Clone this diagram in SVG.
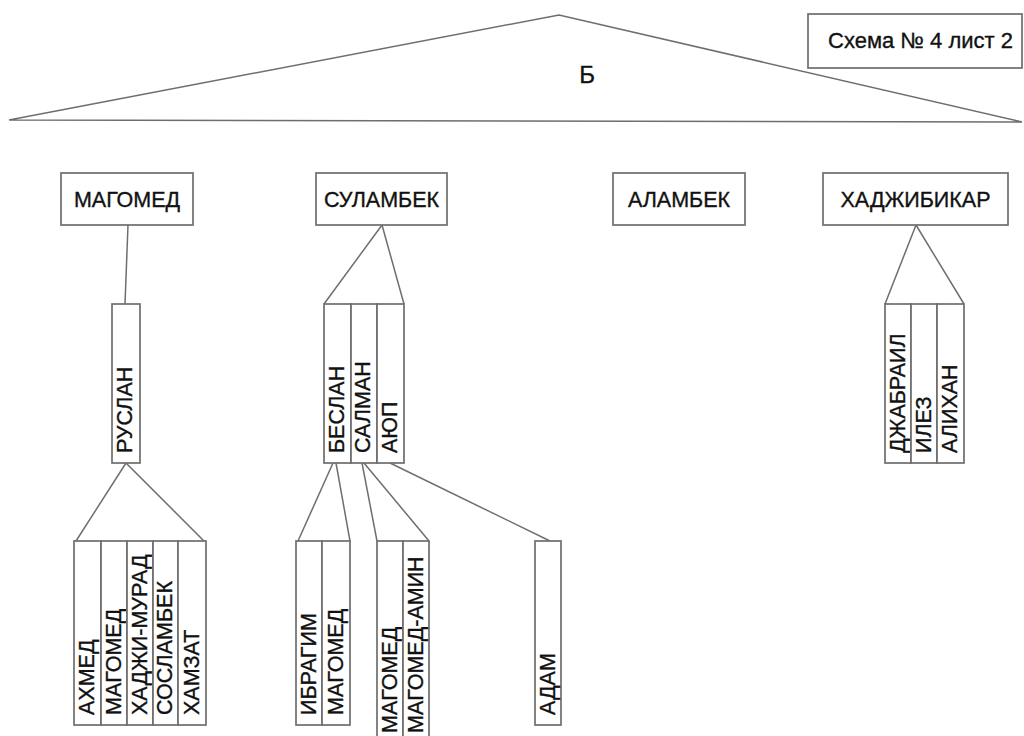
<svg xmlns="http://www.w3.org/2000/svg" width="1024" height="736" viewBox="0 0 1024 736">
<style>
.box{fill:#fff;stroke:#6e6e6e;stroke-width:1.7}
.ln{fill:none;stroke:#6e6e6e;stroke-width:1.5}
text{font-family:"Liberation Sans",Arial,sans-serif;fill:#111;stroke:#111;stroke-width:0.35}
.t{font-size:21.5px;text-anchor:middle}
.v{font-size:21.5px}
</style>
<rect width="1024" height="736" fill="#fff"/>
<g id="root">
<polygon class="ln" points="9,120 559,15 1022,122"/>
<text x="587" y="83" font-size="24" text-anchor="middle">Б</text>
</g>
<g id="title">
<rect class="box" x="808" y="14" width="214" height="54"/>
<text x="828" y="48" font-size="22">Схема № 4 лист 2</text>
</g>
<g id="connectors">
<line class="ln" x1="128" y1="225" x2="125" y2="304"/>
<line class="ln" x1="382" y1="225" x2="324" y2="304"/>
<line class="ln" x1="382" y1="225" x2="404" y2="304"/>
<line class="ln" x1="916" y1="225" x2="885" y2="304"/>
<line class="ln" x1="916" y1="225" x2="964" y2="304"/>
<line class="ln" x1="126" y1="463" x2="76" y2="541"/>
<line class="ln" x1="126" y1="463" x2="204" y2="541"/>
<line class="ln" x1="333" y1="463" x2="298" y2="541"/>
<line class="ln" x1="336" y1="463" x2="350" y2="541"/>
<line class="ln" x1="362" y1="463" x2="377" y2="541"/>
<line class="ln" x1="364" y1="463" x2="429" y2="541"/>
<line class="ln" x1="390" y1="463" x2="550" y2="541"/>
</g>
<g id="n-magomed"><rect class="box" x="61" y="173" width="132" height="52"/><text class="t" x="127" y="207">МАГОМЕД</text></g>
<g id="n-sulambek"><rect class="box" x="316" y="173" width="131" height="52"/><text class="t" x="381.5" y="207">СУЛАМБЕК</text></g>
<g id="n-alambek"><rect class="box" x="613" y="173" width="132" height="52"/><text class="t" x="679" y="207">АЛАМБЕК</text></g>
<g id="n-hadzhibikar"><rect class="box" x="823" y="173" width="185" height="52"/><text class="t" x="915.5" y="207">ХАДЖИБИКАР</text></g>

<g id="n-ruslan"><rect class="box" x="112" y="304" width="28" height="159"/><text class="v" transform="translate(132,453) rotate(-90)">РУСЛАН</text></g>

<g id="n-beslan"><rect class="box" x="324" y="304" width="27" height="159"/><text class="v" transform="translate(344,453) rotate(-90)">БЕСЛАН</text></g>
<g id="n-salman"><rect class="box" x="351" y="304" width="26" height="159"/><text class="v" transform="translate(370,453) rotate(-90)">САЛМАН</text></g>
<g id="n-ayup"><rect class="box" x="377" y="304" width="27" height="159"/><text class="v" transform="translate(397,453) rotate(-90)">АЮП</text></g>

<g id="n-dzhabrail"><rect class="box" x="885" y="304" width="26" height="159"/><text class="v" transform="translate(905,453) rotate(-90)">ДЖАБРАИЛ</text></g>
<g id="n-ilez"><rect class="box" x="911" y="304" width="26" height="159"/><text class="v" transform="translate(931,453) rotate(-90)">ИЛЕЗ</text></g>
<g id="n-alihan"><rect class="box" x="937" y="304" width="27" height="159"/><text class="v" transform="translate(957,453) rotate(-90)">АЛИХАН</text></g>

<g id="n-ahmed"><rect class="box" x="74" y="541" width="27" height="184"/><text class="v" transform="translate(94,715) rotate(-90)">АХМЕД</text></g>
<g id="n-magomed2"><rect class="box" x="101" y="541" width="26" height="184"/><text class="v" transform="translate(121,715) rotate(-90)">МАГОМЕД</text></g>
<g id="n-hadzhi-murad"><rect class="box" x="127" y="541" width="26" height="184"/><text class="v" transform="translate(147,715) rotate(-90)">ХАДЖИ-МУРАД</text></g>
<g id="n-soslambek"><rect class="box" x="153" y="541" width="25" height="184"/><text class="v" transform="translate(172,715) rotate(-90)">СОСЛАМБЕК</text></g>
<g id="n-hamzat"><rect class="box" x="178" y="541" width="28" height="184"/><text class="v" transform="translate(199,715) rotate(-90)">ХАМЗАТ</text></g>

<g id="n-ibragim"><rect class="box" x="296" y="541" width="26" height="184"/><text class="v" transform="translate(316,715) rotate(-90)">ИБРАГИМ</text></g>
<g id="n-magomed3"><rect class="box" x="322" y="541" width="28" height="184"/><text class="v" transform="translate(343,715) rotate(-90)">МАГОМЕД</text></g>

<g id="n-magomed4"><rect class="box" x="377" y="541" width="26" height="210"/><text class="v" transform="translate(397,733) rotate(-90)">МАГОМЕД</text></g>
<g id="n-magomed-amin"><rect class="box" x="403" y="541" width="26" height="210"/><text class="v" transform="translate(423,733) rotate(-90)">МАГОМЕД-АМИН</text></g>

<g id="n-adam"><rect class="box" x="535" y="541" width="26" height="184"/><text class="v" transform="translate(555,715) rotate(-90)">АДАМ</text></g>
</svg>
